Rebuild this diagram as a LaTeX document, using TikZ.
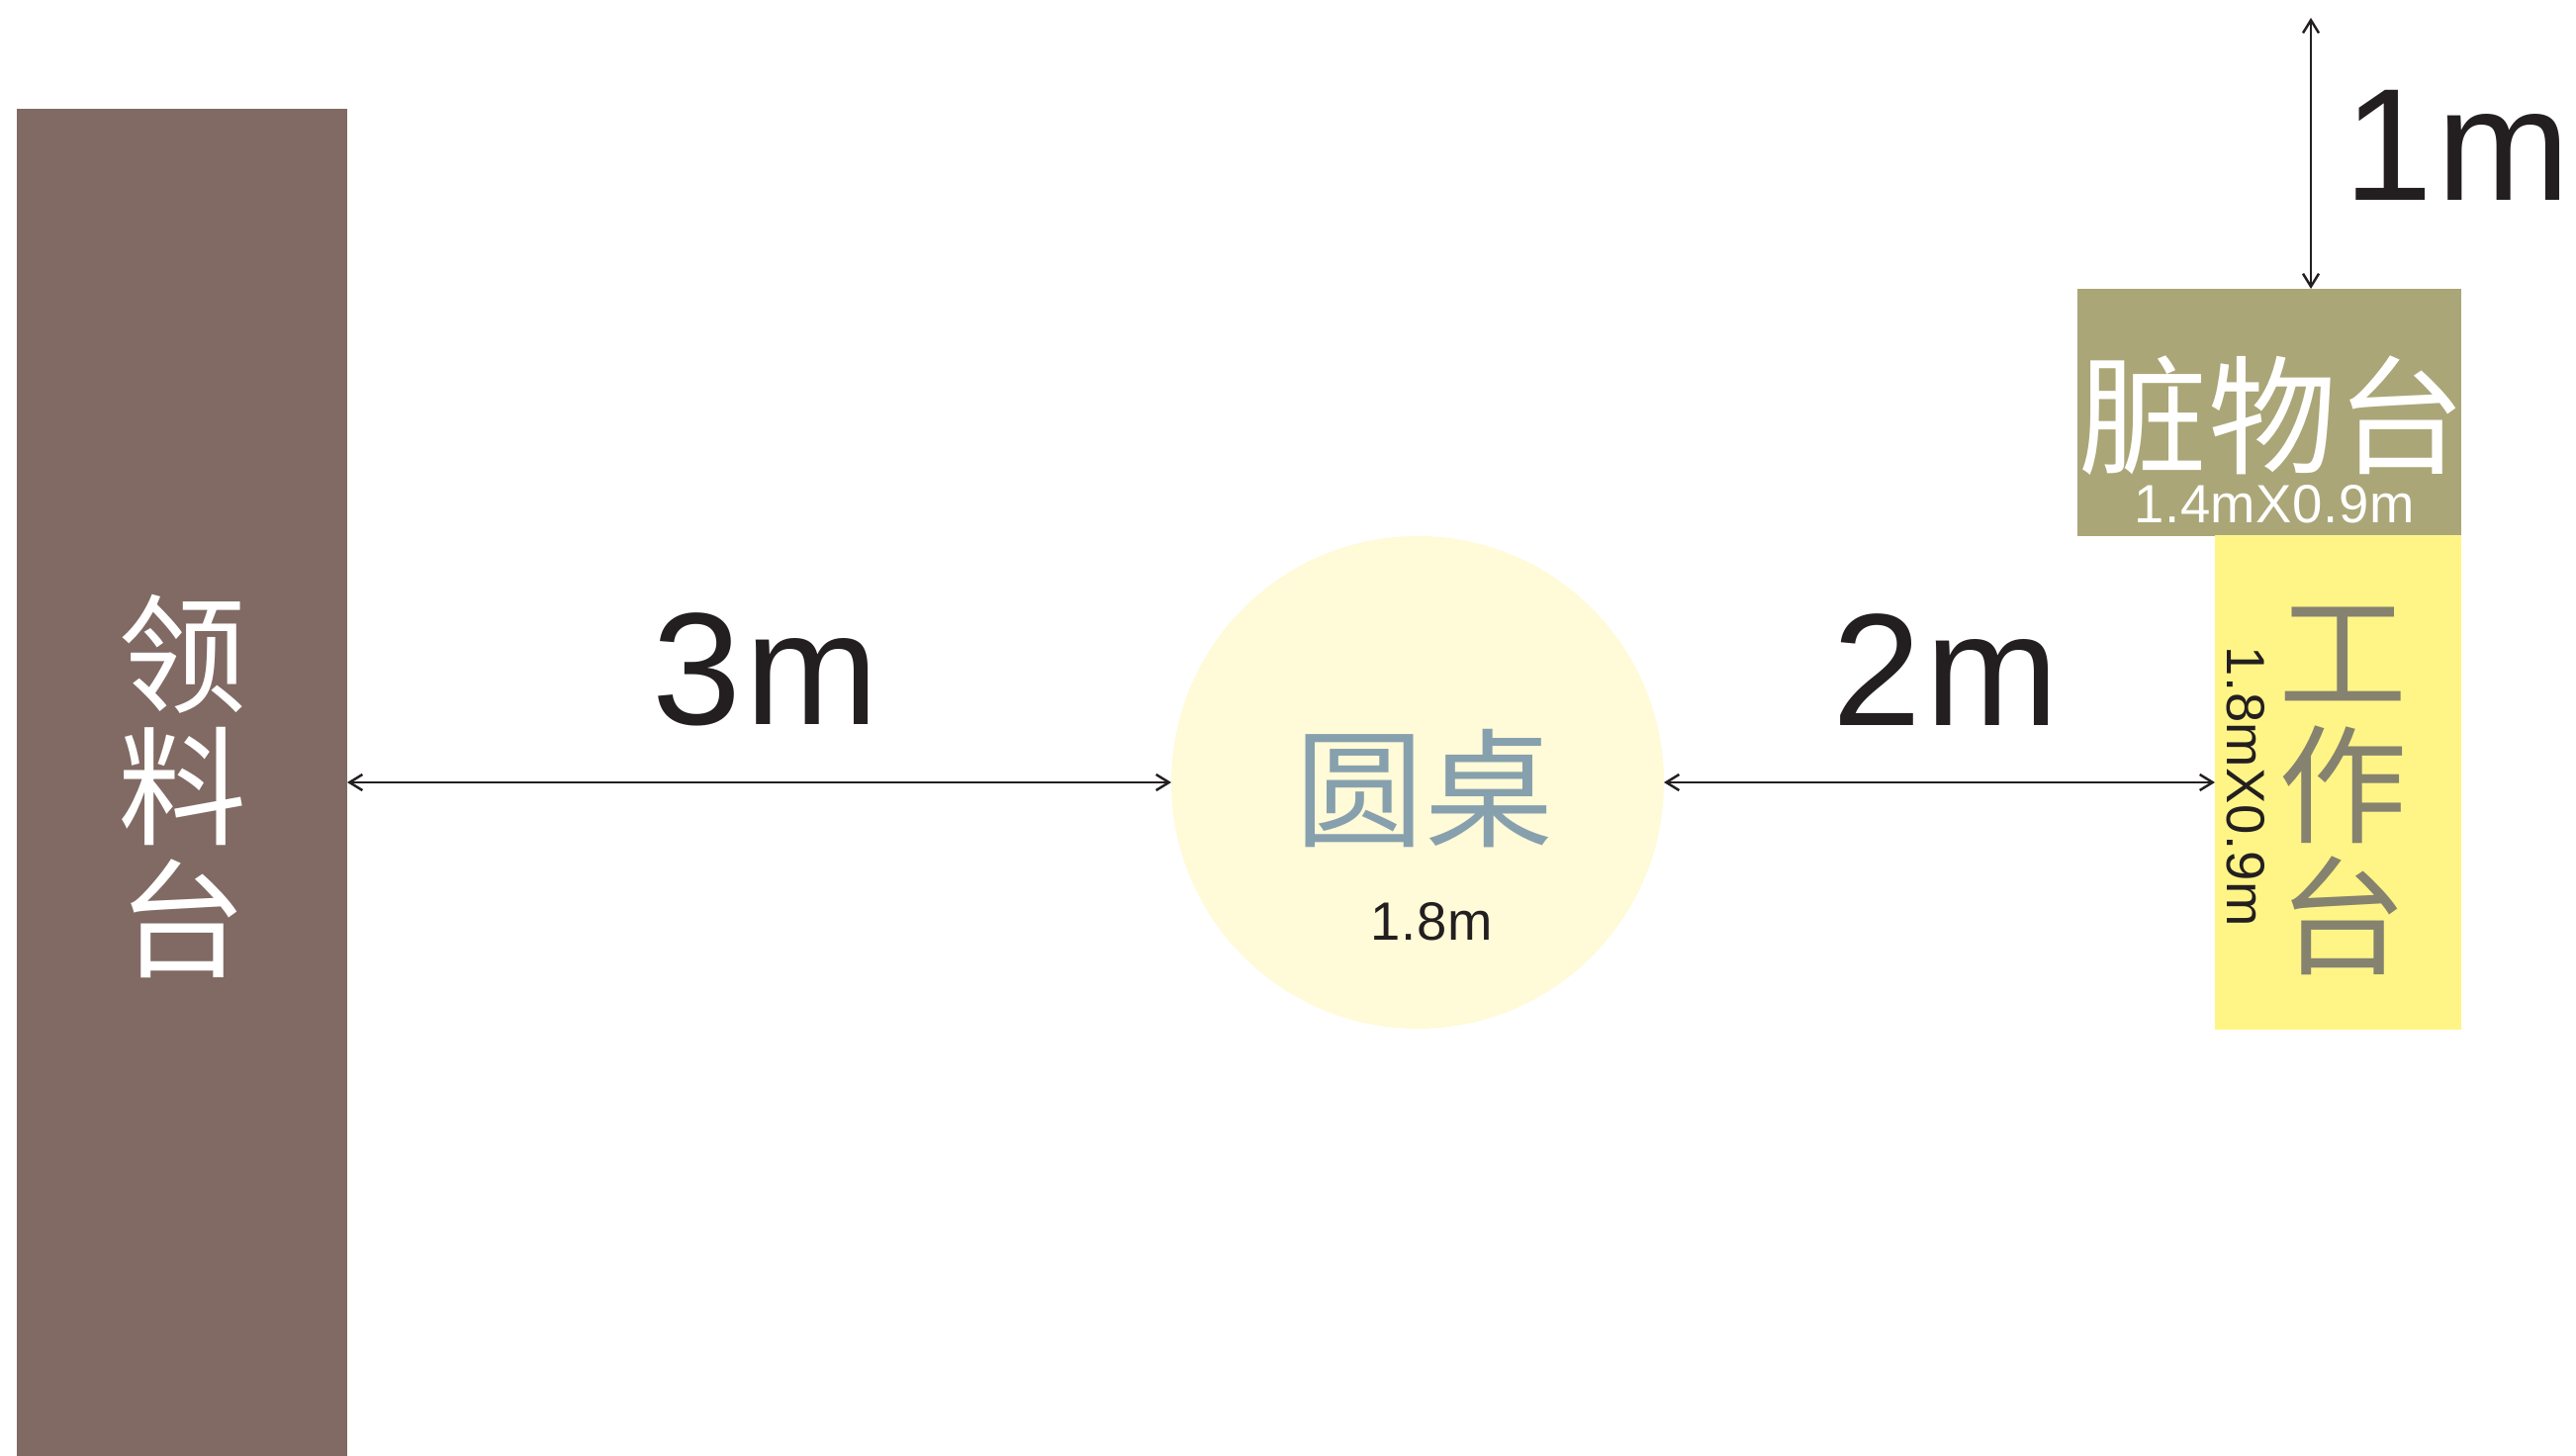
\documentclass[tikz,border=0pt]{standalone}
\usepackage{fontspec}
\setmainfont{Liberation Sans}
\newfontfamily\cjk{Noto Sans CJK SC}
\usetikzlibrary{arrows.meta}

\definecolor{liaobrown}{HTML}{806A63}
\definecolor{zangolive}{HTML}{AAA677}
\definecolor{gongyellow}{HTML}{FFF587}
\definecolor{yuancream}{HTML}{FFFAD7}
\definecolor{yuanblue}{HTML}{87A0AD}
\definecolor{gonggray}{HTML}{858270}
\definecolor{darktext}{HTML}{231F20}

\begin{document}
\begin{tikzpicture}[x=0.1mm, y=-0.1mm,
    table/.style={rectangle, inner sep=0pt, outer sep=0pt},
    dimline/.style={{Straight Barb[length=1.3mm,width=1.6mm]}-{Straight Barb[length=1.3mm,width=1.6mm]}, line width=0.7pt, draw=darktext},
    cjklabel/.style={font=\cjk\fontsize{37}{38}\selectfont, align=center},
    bigdim/.style={font=\fontsize{46}{46}\selectfont\addfontfeature{LetterSpace=3}, text=darktext},
    smalldim/.style={font=\fontsize{15.5}{16}\selectfont\addfontfeature{LetterSpace=1}}]

            % page
            \useasboundingbox (0,0) rectangle (2604,1472);

            % tables
            \node[table, fill=liaobrown, minimum width=33.4mm, minimum height=136.2mm] (liao) at (184,791) {};
            \node[table, fill=zangolive, minimum width=38.8mm, minimum height=25mm] (zang) at (2294,417) {};
            \node[table, fill=gongyellow, minimum width=24.9mm, minimum height=50mm] (gong) at (2363.5,791) {};
            \node[circle, fill=yuancream, inner sep=0pt, outer sep=0pt, minimum size=49.8mm] (yuan) at (1433,791) {};

            % table names
            \node[cjklabel, text=white] (liaotxt) at (185,795) {领\\料\\台};
            \node[cjklabel, text=white] (zangtxt) at (2297,420) {脏物台};
            \node[smalldim, text=white] (zangsize) at (2299,510) {1.4mX0.9m};
            \node[cjklabel, text=gonggray] (gongtxt) at (2368,800) {工\\作\\台};
            \node[smalldim, text=darktext, rotate=-90] (gongsize) at (2270,795) {1.8mX0.9m};
            \node[smalldim, text=darktext] (yuansize) at (1447,932) {1.8m};
            \node[cjklabel, text=yuanblue] (yuantxt) at (1440,797) {圆桌};

            % distances
            \draw[dimline] (liao.east) -- (yuan.west);
            \draw[dimline] (yuan.east) -- (gong.west);
            \coordinate (wall) at (2336,18);
            \draw[dimline] (wall) -- (wall |- zang.north);

            % distance labels
            \node[bigdim] (leftgap) at (774,677) {3m};
            \node[bigdim] (rightgap) at (1967,677) {2m};
            \node[bigdim] (topgap) at (2484,147) {1m};
        \end{tikzpicture}
\end{document}
